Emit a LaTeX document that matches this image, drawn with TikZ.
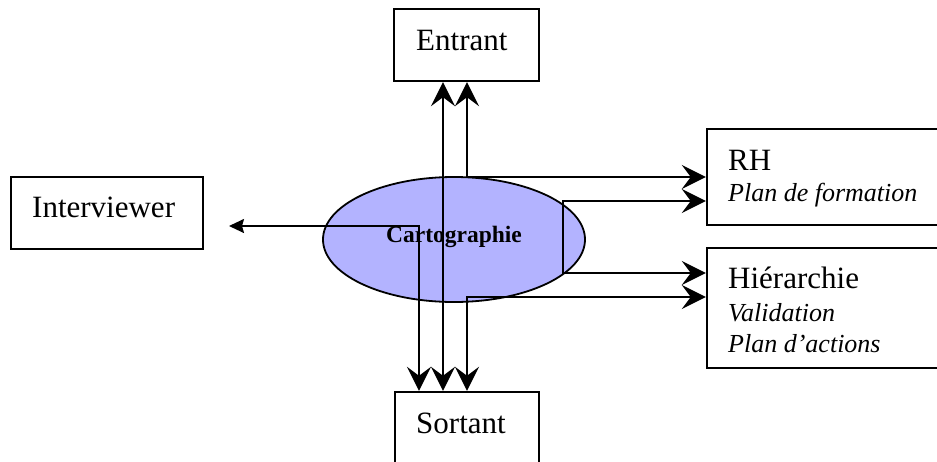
\documentclass[tikz,border=0pt]{standalone}
\usepackage{fontspec}
\setmainfont{Liberation Serif}
\usetikzlibrary{arrows.meta,shapes.geometric}
\definecolor{cartoblue}{RGB}{179,179,255}
\newcommand{\mainsize}{\fontsize{31}{36}\selectfont}
\newcommand{\notesize}{\fontsize{26}{31}\selectfont\itshape}
\newcommand{\cartosize}{\fontsize{23.5}{28}\selectfont\bfseries}
\tikzset{
    bigtip/.tip={Stealth[length=24pt,width=24pt,inset=9pt]},
    smalltip/.tip={Stealth[length=15pt,width=14pt,inset=2pt]}
}
\begin{document}
\begin{tikzpicture}[x=1pt,y=-1pt,
    box/.style={draw,line width=2.4pt,inner sep=0pt},
    carto/.style={ellipse,draw,line width=1.8pt,fill=cartoblue,minimum width=262pt,minimum height=125pt,inner sep=0pt,font=\cartosize},
    txt/.style={inner sep=0pt,anchor=base west,font=\mainsize},
    note/.style={inner sep=0pt,anchor=base west,font=\notesize},
    link/.style={line width=1.8pt}]
    \useasboundingbox (0,0) rectangle (937,461);
    % boxes
    \node[box,minimum width=145pt,minimum height=72pt] (entrant) at (466.5,45) {};
    \node[box,minimum width=192pt,minimum height=72pt] (interviewer) at (107,213) {};
    \node[box,minimum width=260pt,minimum height=96pt] (rh) at (837,177) {};
    \node[box,minimum width=260pt,minimum height=120pt] (hier) at (837,308) {};
    \node[box,minimum width=144pt,minimum height=90pt] (sortant) at (467,437) {};
    \node[carto] (carto) at (454,239.5) {\raisebox{10pt}{Cartographie}};
    % texts
    \node[txt] (entrant-t) at (416,50) {Entrant};
    \node[txt] (interviewer-t) at (32,217) {Interviewer};
    \node[txt] (sortant-t) at (416,433) {Sortant};
    \node[txt] (rh-t) at (728,170) {RH};
    \node[note] (rh-n) at (728,201) {Plan de formation};
    \node[txt] (hier-t) at (728,288) {Hiérarchie};
    \node[note] (hier-n1) at (728,321) {Validation};
    \node[note] (hier-n2) at (728,352) {Plan d’actions};
    % connectors
    \coordinate (x1) at (419,0);
    \coordinate (x2) at (443,0);
    \coordinate (x3) at (467,0);
    \coordinate (x4) at (563,0);
    \coordinate (iv) at (229,226);
    \coordinate (rh2) at ([yshift=-24pt]rh.west);
    \coordinate (hi1) at ([yshift=35pt]hier.west);
    \coordinate (hi2) at ([yshift=11pt]hier.west);
    \draw[link,smalltip-bigtip] (iv) -- (iv -| x1) -- (sortant.north -| x1);
    \draw[link,bigtip-bigtip] (entrant.south -| x2) -- (sortant.north -| x2);
    \draw[link,bigtip-bigtip] (entrant.south -| x3) |- (rh.west);
    \draw[link,bigtip-bigtip] (rh2) -| (x4 |- hi1) -- (hi1);
    \draw[link,bigtip-bigtip] (hi2) -| (sortant.north -| x3);
\end{tikzpicture}
\end{document}
